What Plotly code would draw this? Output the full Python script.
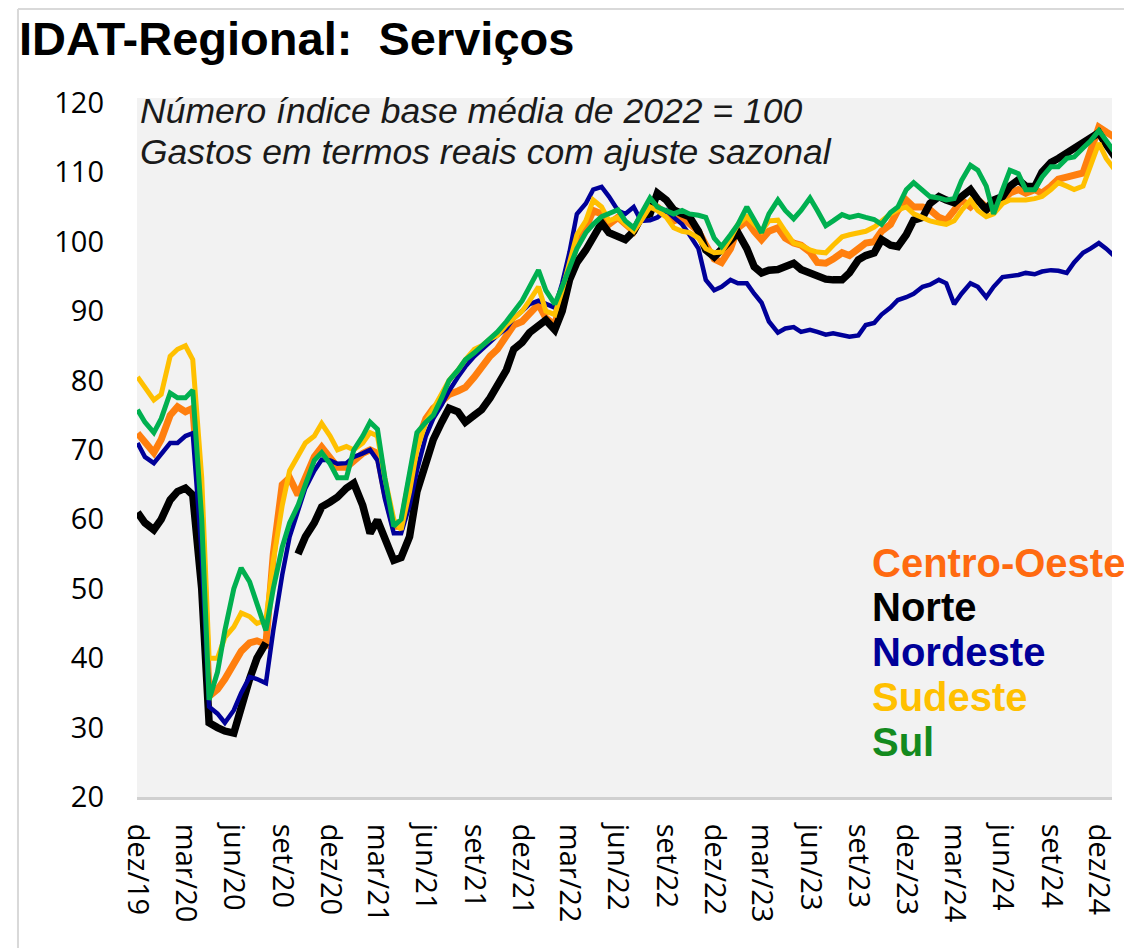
import pandas as pd
import plotly.graph_objects as go

# ---- data (semi-monthly readings, Dec 2019 - Jan 2025) ----
dates = pd.date_range("2019-12-01", "2025-01-01", freq="SMS")

centro_oeste = [72.4, 71, 69.6, 71.5, 75, 76.2, 75.5, 76, 60, 34.5, 35.5, 37, 39, 41, 42.2, 42.5, 42, 55, 65, 66,
                63.5, 66, 69, 70.4, 69, 67.5, 67.5, 68.5, 69.5, 70, 69.5, 64, 59, 59, 65, 71, 74.5, 76, 77, 78,
                78.5, 79, 80.5, 82, 83.5, 84.5, 86.5, 88, 88.5, 89.5, 91, 89, 88, 92, 96, 100, 102, 104.5, 104, 102.5,
                103.5, 102.5, 101.5, 103.5, 105.5, 105, 104, 103, 103.5, 102.5, 101.5, 99.5, 97.5, 97, 99, 102, 103, 101.5, 100.3, 101.5,
                102, 100.5, 99.8, 99.5, 98.5, 97, 96.9, 97.5, 98.4, 98, 99, 99.8, 100, 101.5, 102.5, 104.5, 106, 105, 105, 104.6,
                103.5, 103.1, 104.5, 106, 105, 106, 105, 104.6, 106, 107, 107.5, 107, 107.5, 107, 108, 109, 109.3, 109.5, 109.9, 113,
                116.5, 115.8, 115]

norte = [61, 59.5, 58.5, 60, 62.8, 64, 64.5, 63.5, 50, 30.7, 30, 29.5, 29.2, 33, 37, 40, 42.2, None, None, None,
         55, 57.5, 59.5, 61.8, 62.5, 63.2, 64.5, 65.2, 62, 58, 59.9, 57, 54.1, 54.5, 57.5, 64, 68.6, 71.5, 74, 76,
         75.5, 74, 75, 75.8, 77.5, 79.1, 81.5, 84.5, 85.5, 86.9, 88, 88.7, 87.3, 90, 94.5, 97, 98.8, 100.5, 102.7, 101.3,
         100.8, 100.3, 101.5, 103.5, 104, 107, 106, 104.6, 104, 103.6, 101.5, 98.8, 97.8, 99, 100.3, 101.3, 99, 96.4, 95.5, 95.9,
         96, 96.5, 96.9, 96, 95.5, 94.9, 94.6, 94.5, 94.5, 95.5, 97.4, 98, 98.4, 100.3, 99.5, 99.3, 101, 103.1, 103.5, 105.5,
         106.5, 106, 105.6, 106.5, 107.5, 106, 104.6, 106, 106.5, 108, 108.9, 108, 107.9, 110, 111.4, 112, 112.8, 113.5, 114.3, 115,
         115.7, 114, 112.2]

nordeste = [71, 69, 68.1, 69.5, 71, 71, 72, 72.4, 55, 33, 32, 30.7, 32.5, 35, 37.3, 37, 36.4, 44, 52, 57.5,
            61, 64.5, 67, 68.6, 68.5, 68, 68.1, 69, 69.5, 70, 68.5, 63, 58, 58, 62, 67, 72, 74.5, 76.5, 78.5,
            80.5, 82, 83.5, 84.5, 85.5, 86.5, 87.5, 89, 90, 91, 91.5, 91, 90.5, 94, 98.5, 104, 105.5, 107.5, 107.9, 106.5,
            104.5, 104, 105, 103, 103.1, 103.5, 104.5, 103.5, 102.5, 101, 99, 94.5, 93, 93.5, 94.5, 94, 94, 92.5, 91.2, 88.5,
            86.9, 87.5, 87.7, 87, 87.3, 87, 86.6, 86.8, 86.5, 86.3, 86.5, 88, 88.3, 89.5, 90.5, 91.6, 92, 92.5, 93.5, 93.8,
            94.5, 94, 91, 92.5, 94, 93.5, 92, 93.5, 94.9, 95, 95.2, 95.5, 95.3, 95.7, 95.9, 95.8, 95.5, 97, 98.4, 99,
            99.8, 99, 97.8]

sudeste = [80.5, 79, 77.2, 78, 83.5, 84.5, 85, 83, 66, 40, 40, 43, 44.5, 46.5, 46, 45, 45.5, 54, 62, 67,
           69, 71, 72, 73.8, 72, 70, 70.5, 70, 71, 72.5, 72, 66, 60, 58.5, 64, 70, 74, 76, 78, 80,
           81.5, 83, 84.5, 85, 86, 86.5, 88, 89, 90, 91.5, 93.5, 90, 89.5, 93, 97, 101, 103, 106, 105, 103,
           103.5, 102.5, 101.5, 103, 105, 104.5, 103.5, 102, 101.5, 101.3, 100.5, 99, 98.4, 98.5, 100.5, 102.5, 103.6, 102.5, 101.5, 103,
           103.1, 101.5, 99.8, 99.5, 98.8, 98.5, 98.4, 99.5, 100.7, 101, 101.3, 101.5, 102.1, 103, 104, 104.6, 105, 104, 103.5, 103,
           102.7, 102.5, 103, 104.5, 106, 104.5, 103.6, 104, 105.5, 106, 106, 106, 106.2, 106.5, 107.5, 108.5, 108, 107.5, 108, 111,
           114.2, 112, 110.3]

sul = [75.8, 74, 72.5, 74.5, 78.2, 77.5, 77.5, 78.6, 60, 34, 38, 44, 50, 53, 51, 48, 44, 50, 56, 59.5,
       62, 65, 68.5, 69.6, 68, 66, 66, 70, 72, 74, 73, 66, 59, 60, 67, 72.5, 74, 75, 77.5, 80,
       81.5, 83, 84, 85, 86, 87, 88.5, 90, 91.5, 93.5, 95.9, 93, 91, 93.5, 96.5, 99, 101.3, 102.5, 103.6, 104,
       104.6, 103, 102, 104, 106.3, 105, 104.5, 104, 104.5, 104, 103.8, 103.5, 100.5, 99.3, 101, 102.5, 105, 103, 101.3, 104,
       106, 104.5, 103.3, 104.5, 106.3, 104.5, 102.3, 103, 103.9, 103.5, 103.8, 103.5, 103.2, 102.5, 104.2, 105, 107.5, 108.5, 107.5, 106.5,
       106.3, 106, 106.2, 108.8, 111, 110.3, 108, 104, 107.5, 110.3, 109.8, 107.5, 107.5, 109.3, 110.8, 110.8, 112, 112.2, 113.5, 114.5,
       116, 114.5, 112.8]

tick_dates = ["2019-12-01", "2020-03-01", "2020-06-01", "2020-09-01", "2020-12-01", "2021-03-01", "2021-06-01",
              "2021-09-01", "2021-12-01", "2022-03-01", "2022-06-01", "2022-09-01", "2022-12-01", "2023-03-01",
              "2023-06-01", "2023-09-01", "2023-12-01", "2024-03-01", "2024-06-01", "2024-09-01", "2024-12-01"]
tick_labels = ["dez/19", "mar/20", "jun/20", "set/20", "dez/20", "mar/21", "jun/21", "set/21", "dez/21", "mar/22",
               "jun/22", "set/22", "dez/22", "mar/23", "jun/23", "set/23", "dez/23", "mar/24", "jun/24", "set/24", "dez/24"]
y_ticks = [20, 30, 40, 50, 60, 70, 80, 90, 100, 110, 120]

series = [
    ("Centro-Oeste", centro_oeste, "#FF7F0E", 7, "#FF6A10"),
    ("Norte", norte, "#000000", 7.5, "#000000"),
    ("Nordeste", nordeste, "#000099", 4.5, "#000099"),
    ("Sudeste", sudeste, "#FFC000", 5, "#FFC000"),
    ("Sul", sul, "#00B050", 5, "#138A1E"),
]

# ---- layout geometry (page pixels; the page body adds an 8px offset) ----
OFF = 8
W, H = 1132 - OFF, 948 - OFF
L, R, T, B = 137 - OFF, 12, 98 - OFF, 151
pw, ph = W - L - R, H - T - B


def px(x):
    return (x - OFF - L) / pw


def py(y):
    return (H - B - (y - OFF)) / ph


fig = go.Figure()
for name, vals, color, width, _ in series:
    fig.add_trace(go.Scatter(x=dates, y=vals, mode="lines", name=name,
                             line=dict(color=color, width=width), connectgaps=False))

annotations = [
    dict(text="<b>IDAT-Regional:  Serviços</b>", x=px(16), y=py(38), xref="paper", yref="paper",
         xanchor="left", yanchor="middle", showarrow=False,
         font=dict(family="Liberation Sans, Arial", size=47, color="#000000")),
    dict(text="<i>Número índice base média de 2022 = 100</i>", x=px(138), y=py(111), xref="paper", yref="paper",
         xanchor="left", yanchor="middle", showarrow=False,
         font=dict(family="Liberation Sans, Arial", size=35.5, color="#1a1a1a")),
    dict(text="<i>Gastos em termos reais com ajuste sazonal</i>", x=px(138), y=py(152), xref="paper", yref="paper",
         xanchor="left", yanchor="middle", showarrow=False,
         font=dict(family="Liberation Sans, Arial", size=35.5, color="#1a1a1a")),
]
legend_y = [563, 607, 652, 697, 742]
for (name, _, _, _, tcolor), yy in zip(series, legend_y):
    annotations.append(dict(text=f"<b>{name}</b>", x=px(876), y=py(yy), xref="paper", yref="paper",
                            xanchor="left", yanchor="middle", showarrow=False,
                            font=dict(family="Liberation Sans, Arial", size=40, color=tcolor)))

shapes = [
    dict(type="line", xref="paper", yref="paper", x0=px(17), x1=px(1140), y0=py(9), y1=py(9),
         line=dict(color="#D9D9D9", width=2)),
    dict(type="line", xref="paper", yref="paper", x0=px(17), x1=px(17), y0=py(9), y1=py(960),
         line=dict(color="#D9D9D9", width=2)),
]

fig.update_layout(
    width=W, height=H,
    margin=dict(l=L, r=R, t=T, b=B, pad=0),
    paper_bgcolor="#FFFFFF",
    plot_bgcolor="#F2F2F2",
    showlegend=False,
    annotations=annotations,
    shapes=shapes,
    xaxis=dict(type="date", range=["2019-11-30", "2024-12-26"], tickmode="array",
               tickvals=tick_dates, ticktext=tick_labels, tickangle=90,
               showgrid=False, zeroline=False, showline=True, linecolor="#D0D0D0", linewidth=3,
               ticks="", ticklabelstandoff=18,
               tickfont=dict(family="Open Sans", size=29, color="#000000")),
    yaxis=dict(range=[20, 120.7], tickmode="array", tickvals=y_ticks,
               showgrid=False, zeroline=False, showline=False, ticks="", ticklabelstandoff=32,
               tickfont=dict(family="Open Sans", size=29, color="#000000")),
)

fig.write_html("out.html")
